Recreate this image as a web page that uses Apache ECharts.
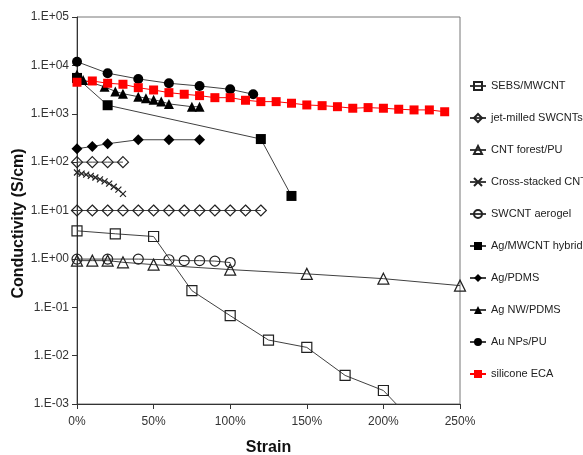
<!DOCTYPE html>
<html>
<head>
<meta charset="utf-8">
<script src="https://cdn.jsdelivr.net/npm/echarts@6/dist/echarts.min.js"></script>
<style>
  html, body { margin: 0; padding: 0; background: #fff; }
  #chart { width: 583px; height: 455px; }
</style>
</head>
<body>
<div id="chart"></div>
<script>
// strain (%) and conductivity (S/cm)
const sebsX = [0, 25, 50, 75, 100, 125, 150, 175, 200, 225];
const sebsY = [3.8, 3.3, 2.9, 0.22, 0.067, 0.021, 0.0148, 0.0039, 0.0019, 0.00028];

const jetLowX = [0, 10, 20, 30, 40, 50, 60, 70, 80, 90, 100, 110, 120];
const jetLowY = [10, 10, 10, 10, 10, 10, 10, 10, 10, 10, 10, 10, 10];
const jetHighX = [0, 10, 20, 30];
const jetHighY = [100, 100, 100, 100];

const forestX = [0, 10, 20, 30, 50, 100, 150, 200, 250];
const forestY = [0.92, 0.92, 0.92, 0.85, 0.76, 0.6, 0.49, 0.39, 0.28];

const crossX = [0, 3, 6, 9, 12, 15, 18, 21, 24, 27, 30];
const crossY = [61, 58, 55, 52, 48, 44, 40, 36, 31, 27, 22];

const aerogelX = [0, 20, 40, 60, 70, 80, 90, 100];
const aerogelY = [0.99, 0.99, 0.99, 0.96, 0.92, 0.92, 0.9, 0.84];

const hybridX = [0, 20, 120, 140];
const hybridY = [5500, 1500, 300, 20];

const agPdmsX = [0, 10, 20, 40, 60, 80];
const agPdmsY = [190, 210, 240, 290, 290, 290];

const agNwX = [0, 4, 18, 25, 30, 40, 45, 50, 55, 60, 75, 80];
const agNwY = [6500, 5000, 3600, 2900, 2600, 2250, 2100, 1950, 1800, 1600, 1400, 1400];

const auX = [0, 20, 40, 60, 80, 100, 115];
const auY = [11900, 6900, 5250, 4270, 3750, 3200, 2530];

const ecaX = [0, 10, 20, 30, 40, 50, 60, 70, 80, 90, 100, 110, 120, 130, 140, 150, 160, 170, 180, 190, 200, 210, 220, 230, 240];
const ecaY = [4480, 4760, 4270, 4070, 3460, 3100, 2730, 2530, 2370, 2150, 2150, 1900, 1780, 1780, 1650, 1520, 1470, 1400, 1300, 1340, 1300, 1240, 1200, 1200, 1100];

const legendNames = ['SEBS/MWCNT', 'jet-milled SWCNTs', 'CNT forest/PU', 'Cross-stacked CNT',
  'SWCNT aerogel', 'Ag/MWCNT hybrid', 'Ag/PDMS', 'Ag NW/PDMS', 'Au NPs/PU', 'silicone ECA'];

const FONT = '"Liberation Sans", Arial, sans-serif';
const LINE = '#404040';
const crossPath = 'path://M0,0L10,10M10,0L0,10';

function pairs(xs, ys) { return xs.map((x, i) => [x, ys[i]]); }

function mk(name, xs, ys, symbol, size, filled, color) {
  const c = color || LINE;
  return {
    name, type: 'line', data: pairs(xs, ys),
    symbol, symbolSize: size, showSymbol: true, clip: true,
    lineStyle: { width: 1, color: c },
    itemStyle: filled
      ? { color: color || '#000', borderColor: color || '#000', borderWidth: 0 }
      : { color: 'rgba(0,0,0,0)', borderColor: '#222', borderWidth: 1.2 },
    emphasis: { disabled: true },
    animation: false
  };
}

function sciLabel(v) {
  const e = Math.round(Math.log10(v));
  const s = e < 0 ? '-' : '+';
  const a = Math.abs(e);
  return '1.E' + s + (a < 10 ? '0' + a : a);
}

const chart = echarts.init(document.getElementById('chart'));
chart.setOption({
  animation: false,
  textStyle: { fontFamily: FONT },
  grid: {
    left: 77, right: 123, top: 17, bottom: 51, outerBoundsMode: 'none', containLabel: false,
    show: true, borderColor: '#777', borderWidth: 1, backgroundColor: 'transparent'
  },
  legend: {
    data: legendNames,
    orient: 'vertical', left: 464, top: 75,
    itemWidth: 16, itemHeight: 10, itemGap: 20,
    textStyle: { fontFamily: FONT, fontSize: 11, color: '#222', lineHeight: 12 },
    selectedMode: false
  },
  xAxis: {
    type: 'value', min: 0, max: 250, interval: 50,
    name: 'Strain', nameLocation: 'middle', nameGap: 36,
    nameTextStyle: { fontFamily: FONT, fontSize: 16, fontWeight: 'bold', color: '#111' },
    axisLine: { show: true, lineStyle: { color: '#333', width: 1 } },
    axisTick: { show: true, length: 5, lineStyle: { color: '#333' } },
    axisLabel: { formatter: v => v + '%', fontSize: 12, color: '#333', margin: 12 },
    splitLine: { show: false }
  },
  yAxis: {
    type: 'log', logBase: 10, min: 0.001, max: 100000,
    name: 'Conductivity (S/cm)', nameLocation: 'middle', nameGap: 50,
    nameMoveOverlap: false,
    nameTextStyle: { fontFamily: FONT, fontSize: 16, fontWeight: 'bold', color: '#111', padding: [0, 26, 0, 0] },
    axisLine: { show: true, lineStyle: { color: '#333', width: 1 } },
    axisTick: { show: true, length: 5, lineStyle: { color: '#333' } },
    axisLabel: { formatter: sciLabel, fontSize: 12, color: '#333', margin: 8 },
    splitLine: { show: false },
    minorTick: { show: false }
  },
  series: [
    mk('SEBS/MWCNT', sebsX, sebsY, 'rect', 10, false),
    mk('jet-milled SWCNTs', jetLowX, jetLowY, 'diamond', 11, false),
    mk('jet-milled SWCNTs', jetHighX, jetHighY, 'diamond', 11, false),
    mk('CNT forest/PU', forestX, forestY, 'triangle', 11, false),
    mk('Cross-stacked CNT', crossX, crossY, crossPath, 6, false),
    mk('SWCNT aerogel', aerogelX, aerogelY, 'circle', 10, false),
    mk('Ag/MWCNT hybrid', hybridX, hybridY, 'rect', 10, true),
    mk('Ag/PDMS', agPdmsX, agPdmsY, 'diamond', 11, true),
    mk('Ag NW/PDMS', agNwX, agNwY, 'triangle', 10, true),
    mk('Au NPs/PU', auX, auY, 'circle', 10, true),
    mk('silicone ECA', ecaX, ecaY, 'rect', 9, true, '#ff0000')
  ]
});
</script>
</body>
</html>
